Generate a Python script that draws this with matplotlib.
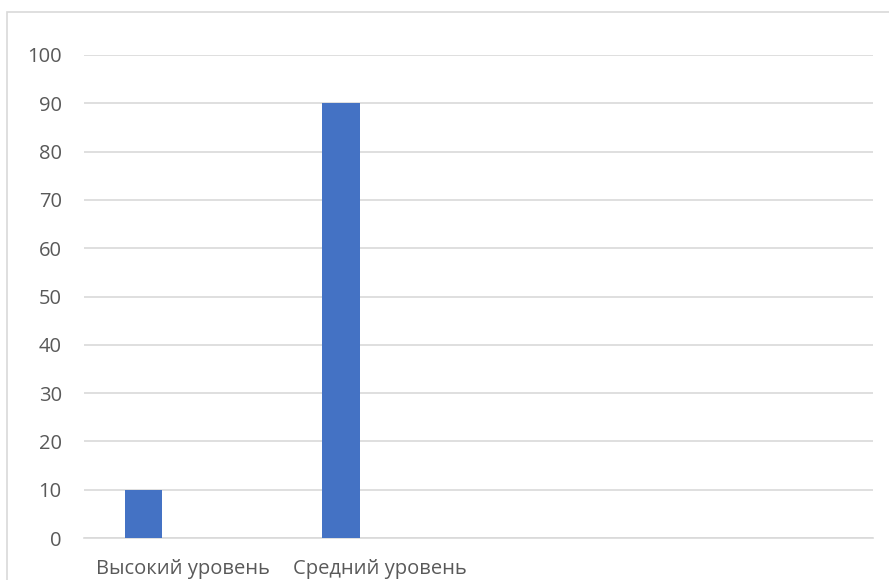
import matplotlib
matplotlib.use("Agg")
import matplotlib.pyplot as plt
import numpy as np
from matplotlib.patches import Rectangle

# данные
categories = ['Высокий уровень', 'Средний уровень', '', '']
values = [10, 90, 0, 0]
y_ticks = [0, 10, 20, 30, 40, 50, 60, 70, 80, 90, 100]

plt.rcParams['font.family'] = ['Open Sans', 'DejaVu Sans']

fig = plt.figure(figsize=(8.89, 5.8), dpi=100)
ax = fig.add_axes([84 / 889, 42 / 580, (873 - 84) / 889, (538 - 55) / 580])

# рамка диаграммы
fig.patches.append(Rectangle((7 / 889, -0.05), 1.0, 1.05 - 12 / 580,
                             transform=fig.transFigure, fill=False,
                             edgecolor='#d9d9d9', linewidth=1.2))

x = np.arange(len(categories))
ax.bar(x - 0.198, values, width=0.19, color='#4472C4', zorder=3)

ax.set_xlim(-0.5, len(categories) - 0.5)
ax.set_ylim(0, 100)
ax.set_yticks(y_ticks)
ax.set_xticks(x)
ax.set_xticklabels(categories)

ax.grid(axis='y', color='#d9d9d9', linewidth=1.2, zorder=0)
for s in ['top', 'right', 'left']:
    ax.spines[s].set_visible(False)
ax.spines['bottom'].set_color('#d9d9d9')
ax.spines['bottom'].set_linewidth(1.2)

ax.tick_params(axis='both', length=0, labelcolor='#595959')
ax.tick_params(axis='y', pad=16, labelsize=14.5)
ax.tick_params(axis='x', pad=15, labelsize=14.5)

fig.savefig('out.png', dpi=100)
